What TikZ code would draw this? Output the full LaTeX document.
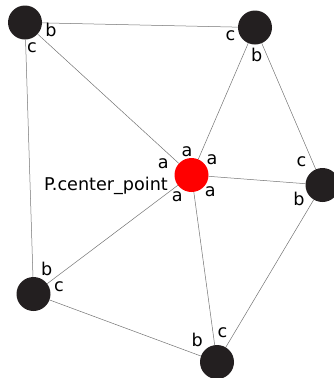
\documentclass[tikz,border=0pt]{standalone}
\usepackage{fontspec}
\setmainfont{DejaVu Sans}
\begin{document}
\begin{tikzpicture}[x=1pt,y=-1pt,
  vert/.style={circle,fill={rgb,255:red,35;green,31;blue,32},minimum size=34pt,inner sep=0pt},
  center/.style={circle,fill=red,minimum size=34pt,inner sep=0pt},
  edge/.style={draw=black!55,line width=0.5pt},
  lab/.style={inner sep=0pt,font=\fontsize{17.6}{20}\selectfont}]
\useasboundingbox (0,0) rectangle (334,378);
\node[vert] (tl) at (25,22.5) {};
\node[vert] (tr) at (255,27.5) {};
\node[center] (p) at (191.5,175) {};
\node[vert] (r) at (322.5,185) {};
\node[vert] (bl) at (33.5,294) {};
\node[vert] (bo) at (217,362) {};
\draw[edge] (tl) -- (tr);
\draw[edge] (tl) -- (p);
\draw[edge] (tl) -- (bl);
\draw[edge] (tr) -- (p);
\draw[edge] (tr) -- (r);
\draw[edge] (p) -- (r);
\draw[edge] (p) -- (bl);
\draw[edge] (p) -- (bo);
\draw[edge] (r) -- (bo);
\draw[edge] (bl) -- (bo);
% labels
\node[lab] (l1) at (51,30) {b};
\node[lab] (l2) at (32,48) {c};
\node[lab] (l3) at (230.5,36) {c};
\node[lab] (l4) at (256.7,54.7) {b};
\node[lab] (l5) at (301.5,161.7) {c};
\node[lab] (l6) at (299,199) {b};
\node[lab] (l7) at (46.7,268.7) {b};
\node[lab] (l8) at (59,286.7) {c};
\node[lab] (l9) at (197.3,340) {b};
\node[lab] (l10) at (222.5,332.5) {c};
\node[lab] (a1) at (187,151.7) {a};
\node[lab] (a2) at (163.3,163.3) {a};
\node[lab] (a3) at (212,159.3) {a};
\node[lab] (a4) at (210.3,191.7) {a};
\node[lab] (a5) at (177.2,196.7) {a};
\node[lab,anchor=base east] (pc) at (168,190) {P.center\_point};
\end{tikzpicture}
\end{document}
